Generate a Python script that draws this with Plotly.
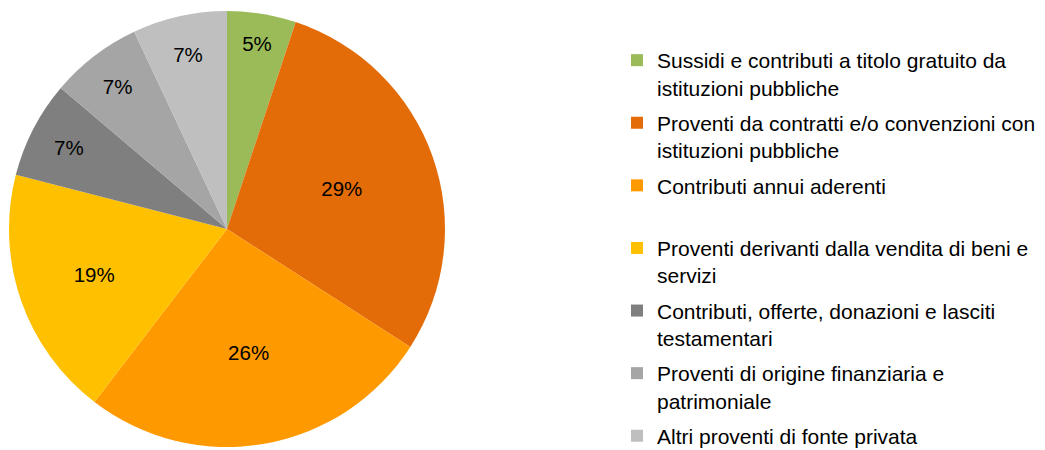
import plotly.graph_objects as go

categories = [
    'Sussidi e contributi a titolo gratuito da<br>istituzioni pubbliche',
    'Proventi da contratti e/o convenzioni con<br>istituzioni pubbliche',
    'Contributi annui aderenti<br> ',
    'Proventi derivanti dalla vendita di beni e<br>servizi',
    'Contributi, offerte, donazioni e lasciti<br>testamentari',
    'Proventi di origine finanziaria e<br>patrimoniale',
    'Altri proventi di fonte privata<br> ',
]
shares = [5.1, 29.0, 26.3, 18.6, 7.2, 6.8, 7.0]
colors = ['#9BBB59', '#E36C09', '#FF9900', '#FFC000', '#7F7F7F', '#A5A5A5', '#BFBFBF']

FONT = 'Liberation Sans, Arial, sans-serif'

fig = go.Figure()
fig.add_trace(
    go.Pie(
        labels=categories,
        values=shares,
        sort=False,
        direction='clockwise',
        rotation=0,
        marker={'colors': colors, 'line': {'width': 0}},
        texttemplate='%{percent:.0%}',
        textposition='inside',
        insidetextorientation='horizontal',
        insidetextfont={'size': 20.5, 'color': 'black', 'family': FONT},
        domain={'x': [1 / 1045, 437 / 1045], 'y': [11 / 450, 447 / 450]},
        showlegend=False,
        hoverinfo='label+percent',
    )
)

# legend entries drawn as empty marker traces so the entries can be spaced like the original
for i, (name, color) in enumerate(zip(categories, colors)):
    fig.add_trace(
        go.Scatter(
            x=[None],
            y=[None],
            mode='markers',
            name=name,
            legendgroup=f'g{i}',
            marker={'symbol': 'square', 'size': 12, 'color': color},
        )
    )

fig.update_layout(
    width=1045,
    height=450,
    margin={'l': 0, 'r': 0, 't': 0, 'b': 0, 'autoexpand': False},
    paper_bgcolor='white',
    plot_bgcolor='white',
    font={'family': FONT, 'size': 21, 'color': 'black'},
    xaxis={'visible': False},
    yaxis={'visible': False},
    legend={
        'x': 609 / 1045,
        'y': 1 - 32 / 450,
        'xanchor': 'left',
        'yanchor': 'top',
        'traceorder': 'grouped',
        'tracegroupgap': 5,
        'valign': 'top',
        'font': {'size': 21, 'family': FONT, 'color': 'black'},
        'bgcolor': 'rgba(0,0,0,0)',
    },
)

fig.write_html('out.html')
